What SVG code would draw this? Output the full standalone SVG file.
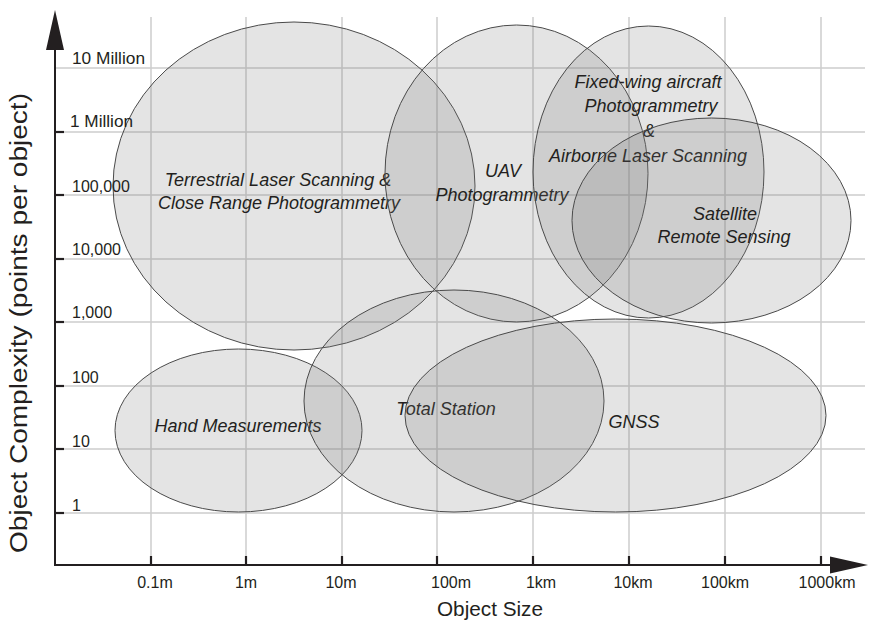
<svg xmlns="http://www.w3.org/2000/svg" width="870" height="620" viewBox="0 0 870 620">
<style>
.grid line{stroke:#cdcdcd;stroke-width:1.5}
.ax{stroke:#231f20;stroke-width:2;fill:none}
.tick{stroke:#231f20;stroke-width:2.2}
.blob{fill:#777;fill-opacity:0.2;stroke:#4a4a4a;stroke-width:1}
.lbl{font-family:"Liberation Sans",Arial,sans-serif;font-style:italic;font-size:18px;fill:#231f20;text-anchor:middle}
.yl{font-family:"Liberation Sans",Arial,sans-serif;font-size:16px;fill:#231f20}
.xl{font-family:"Liberation Sans",Arial,sans-serif;font-size:16px;fill:#231f20;text-anchor:middle}
.title{font-family:"Liberation Sans",Arial,sans-serif;fill:#231f20;text-anchor:middle}
</style>
<rect width="870" height="620" fill="#fff"/>
<g class="grid" id="grid">
<line x1="55" y1="68" x2="865" y2="68"/>
<line x1="55" y1="132" x2="865" y2="132"/>
<line x1="55" y1="195" x2="865" y2="195"/>
<line x1="55" y1="259" x2="865" y2="259"/>
<line x1="55" y1="322" x2="865" y2="322"/>
<line x1="55" y1="386" x2="865" y2="386"/>
<line x1="55" y1="449" x2="865" y2="449"/>
<line x1="55" y1="513" x2="865" y2="513"/>
<line x1="151" y1="17" x2="151" y2="565"/>
<line x1="246" y1="17" x2="246" y2="565"/>
<line x1="342" y1="17" x2="342" y2="565"/>
<line x1="437" y1="17" x2="437" y2="565"/>
<line x1="533" y1="17" x2="533" y2="565"/>
<line x1="629" y1="17" x2="629" y2="565"/>
<line x1="725" y1="17" x2="725" y2="565"/>
<line x1="821" y1="17" x2="821" y2="565"/>
</g>
<g id="tls">
<ellipse class="blob" cx="294" cy="186" rx="181" ry="164"/>
<text class="lbl"><tspan x="278" y="186">Terrestrial Laser Scanning &amp;</tspan><tspan x="279" y="209">Close Range Photogrammetry</tspan></text>
</g>
<g id="uav">
<ellipse class="blob" cx="516.5" cy="173.5" rx="131.5" ry="148.5"/>
<text class="lbl"><tspan x="503" y="177">UAV</tspan><tspan x="502" y="201">Photogrammetry</tspan></text>
</g>
<g id="fixedwing">
<ellipse class="blob" cx="648.5" cy="172" rx="115.5" ry="146"/>
<text class="lbl"><tspan x="648" y="88">Fixed-wing aircraft</tspan><tspan x="651" y="112">Photogrammetry</tspan><tspan x="649" y="137">&amp;</tspan><tspan x="648" y="162">Airborne Laser Scanning</tspan></text>
</g>
<g id="satellite">
<ellipse class="blob" cx="711.5" cy="220.5" rx="139.5" ry="102.5"/>
<text class="lbl"><tspan x="725" y="220">Satellite</tspan><tspan x="724" y="243">Remote Sensing</tspan></text>
</g>
<g id="hand">
<ellipse class="blob" cx="238.5" cy="430.5" rx="123.5" ry="81.5"/>
<text class="lbl" x="238" y="432">Hand Measurements</text>
</g>
<g id="totalstation">
<ellipse class="blob" cx="454" cy="401" rx="150" ry="111"/>
<text class="lbl" x="446" y="415">Total Station</text>
</g>
<g id="gnss">
<ellipse class="blob" cx="615.5" cy="415.5" rx="210.5" ry="96.5"/>
<text class="lbl" x="634" y="428">GNSS</text>
</g>
<g id="axes">
<line class="ax" x1="55" y1="45" x2="55" y2="566"/>
<polygon points="55,10 46,50 64,50" fill="#231f20"/>
<line class="ax" x1="54" y1="565" x2="835" y2="565"/>
<polygon points="868,565 830,556.5 830,573.5" fill="#231f20"/>
<g class="tick">
<line x1="55" y1="132" x2="64" y2="132"/>
<line x1="55" y1="195" x2="64" y2="195"/>
<line x1="55" y1="259" x2="64" y2="259"/>
<line x1="55" y1="322" x2="64" y2="322"/>
<line x1="55" y1="386" x2="64" y2="386"/>
<line x1="55" y1="449" x2="64" y2="449"/>
<line x1="55" y1="513" x2="64" y2="513"/>
<line x1="151" y1="556" x2="151" y2="565"/>
<line x1="246" y1="556" x2="246" y2="565"/>
<line x1="342" y1="556" x2="342" y2="565"/>
<line x1="437" y1="556" x2="437" y2="565"/>
<line x1="533" y1="556" x2="533" y2="565"/>
<line x1="629" y1="556" x2="629" y2="565"/>
<line x1="725" y1="556" x2="725" y2="565"/>
<line x1="821" y1="556" x2="821" y2="565"/>
</g>
</g>
<g id="ylabels">
<text class="yl" x="72" y="64" textLength="73" lengthAdjust="spacingAndGlyphs">10 Million</text>
<text class="yl" x="70" y="127" textLength="63" lengthAdjust="spacingAndGlyphs">1 Million</text>
<text class="yl" x="72" y="192">100,000</text>
<text class="yl" x="72" y="255">10,000</text>
<text class="yl" x="72" y="318">1,000</text>
<text class="yl" x="72" y="383">100</text>
<text class="yl" x="72" y="447">10</text>
<text class="yl" x="72" y="511">1</text>
</g>
<g id="xlabels">
<text class="xl" x="155" y="588">0.1m</text>
<text class="xl" x="246" y="588">1m</text>
<text class="xl" x="341" y="588">10m</text>
<text class="xl" x="451" y="588">100m</text>
<text class="xl" x="541" y="588">1km</text>
<text class="xl" x="633" y="588">10km</text>
<text class="xl" x="725" y="588">100km</text>
<text class="xl" x="827" y="588">1000km</text>
</g>
<text class="title" x="490" y="616" font-size="21" textLength="106" lengthAdjust="spacingAndGlyphs">Object Size</text>
<text class="title" transform="translate(27,323) rotate(-90)" x="0" y="0" font-size="23" textLength="460" lengthAdjust="spacingAndGlyphs">Object Complexity (points per object)</text>
</svg>
